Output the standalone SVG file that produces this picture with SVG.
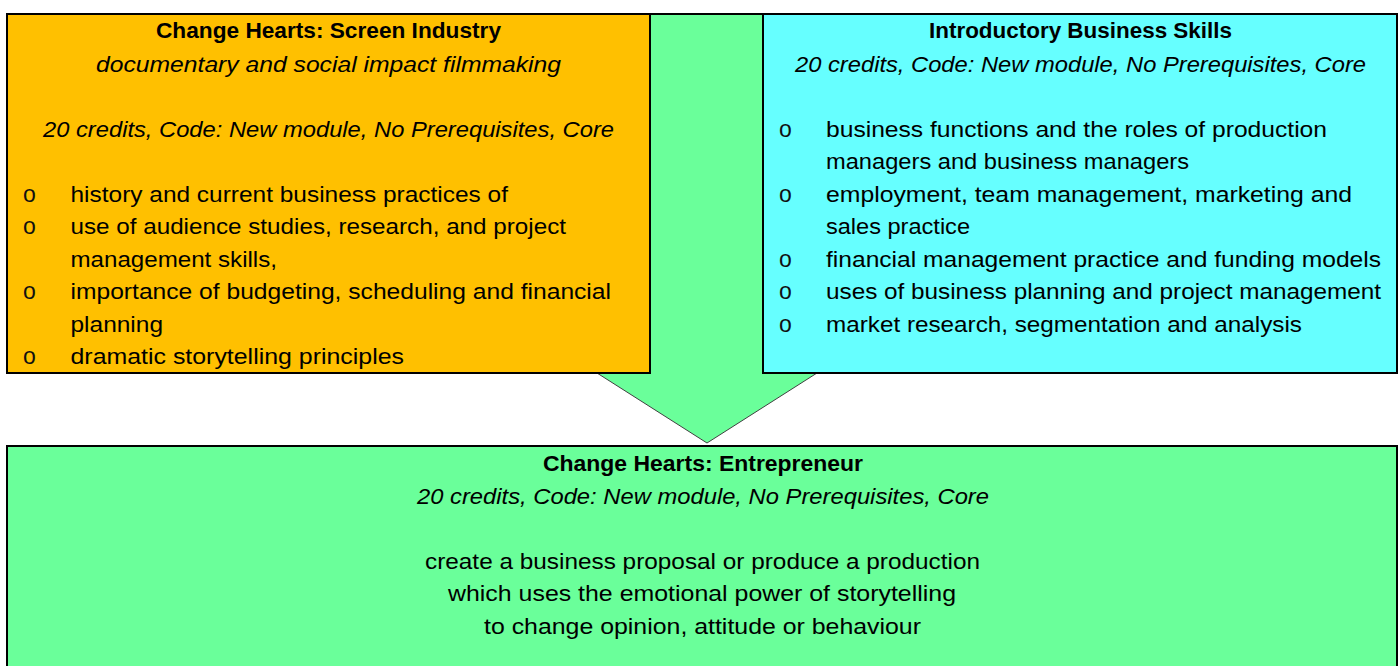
<svg xmlns="http://www.w3.org/2000/svg" width="1400" height="666" viewBox="0 0 1400 666">
  <style>
    .box { stroke: #000; stroke-width: 2; }
    .orange { fill: #FFC000; }
    .cyan { fill: #66FFFF; }
    .green { fill: #6AFF9A; }
    text { font-family: "Liberation Sans", Arial, sans-serif; font-size: 22px; fill: #000; }
    .title { font-weight: bold; text-anchor: middle; }
    .meta { font-style: italic; text-anchor: middle; }
    .center { text-anchor: middle; }
    .bullet { font-size: 23px; fill: #111; }
  </style>

  <rect width="1400" height="666" fill="#fff"/>

  <!-- block arrow leading from the two modules down to the combined module -->
  <g id="connectors">
    <polygon class="green" points="597,14 817,14 817,373 707,443 597,373" stroke="#404040" stroke-width="1"/>
    <line x1="640" y1="14" x2="770" y2="14" stroke="#000" stroke-width="2"/>
  </g>

  <g id="node-screen-industry">
    <rect class="box orange" x="7" y="14" width="643" height="359"/>
    <text class="title" x="328.5" y="38" textLength="345" lengthAdjust="spacingAndGlyphs">Change Hearts: Screen Industry</text>
    <text class="meta" x="328.5" y="71.5" textLength="465" lengthAdjust="spacingAndGlyphs">documentary and social impact filmmaking</text>
    <text class="meta" x="328.5" y="136.5" textLength="571" lengthAdjust="spacingAndGlyphs">20 credits, Code: New module, No Prerequisites, Core</text>
    <text class="bullet" x="23" y="201.5">o</text>
    <text x="70.5" y="201.5" textLength="437.5" lengthAdjust="spacingAndGlyphs">history and current business practices of</text>
    <text class="bullet" x="23" y="234">o</text>
    <text x="70.5" y="234" textLength="495.5" lengthAdjust="spacingAndGlyphs">use of audience studies, research, and project</text>
    <text x="70.5" y="266.5" textLength="206.5" lengthAdjust="spacingAndGlyphs">management skills,</text>
    <text class="bullet" x="23" y="299">o</text>
    <text x="70.5" y="299" textLength="540.5" lengthAdjust="spacingAndGlyphs">importance of budgeting, scheduling and financial</text>
    <text x="70.5" y="331.5" textLength="92.5" lengthAdjust="spacingAndGlyphs">planning</text>
    <text class="bullet" x="23" y="364">o</text>
    <text x="70.5" y="364" textLength="333.5" lengthAdjust="spacingAndGlyphs">dramatic storytelling principles</text>
  </g>

  <g id="node-business-skills">
    <rect class="box cyan" x="763" y="14" width="634" height="359"/>
    <text class="title" x="1080.5" y="38" textLength="303" lengthAdjust="spacingAndGlyphs">Introductory Business Skills</text>
    <text class="meta" x="1080.5" y="71.5" textLength="571" lengthAdjust="spacingAndGlyphs">20 credits, Code: New module, No Prerequisites, Core</text>
    <text class="bullet" x="779" y="136.5">o</text>
    <text x="826" y="136.5" textLength="501" lengthAdjust="spacingAndGlyphs">business functions and the roles of production</text>
    <text x="826" y="169" textLength="363" lengthAdjust="spacingAndGlyphs">managers and business managers</text>
    <text class="bullet" x="779" y="201.5">o</text>
    <text x="826" y="201.5" textLength="526" lengthAdjust="spacingAndGlyphs">employment, team management, marketing and</text>
    <text x="826" y="234" textLength="144" lengthAdjust="spacingAndGlyphs">sales practice</text>
    <text class="bullet" x="779" y="266.5">o</text>
    <text x="826" y="266.5" textLength="555" lengthAdjust="spacingAndGlyphs">financial management practice and funding models</text>
    <text class="bullet" x="779" y="299">o</text>
    <text x="826" y="299" textLength="555" lengthAdjust="spacingAndGlyphs">uses of business planning and project management</text>
    <text class="bullet" x="779" y="331.5">o</text>
    <text x="826" y="331.5" textLength="476" lengthAdjust="spacingAndGlyphs">market research, segmentation and analysis</text>
  </g>

  <g id="node-entrepreneur">
    <rect class="box green" x="7" y="446" width="1390" height="240"/>
    <text class="title" x="703" y="471" textLength="320" lengthAdjust="spacingAndGlyphs">Change Hearts: Entrepreneur</text>
    <text class="meta" x="703" y="503.5" textLength="572" lengthAdjust="spacingAndGlyphs">20 credits, Code: New module, No Prerequisites, Core</text>
    <text class="center" x="702.5" y="568.5" textLength="555" lengthAdjust="spacingAndGlyphs">create a business proposal or produce a production</text>
    <text class="center" x="702" y="601" textLength="508" lengthAdjust="spacingAndGlyphs">which uses the emotional power of storytelling</text>
    <text class="center" x="702.5" y="633.5" textLength="437" lengthAdjust="spacingAndGlyphs">to change opinion, attitude or behaviour</text>
  </g>
</svg>
